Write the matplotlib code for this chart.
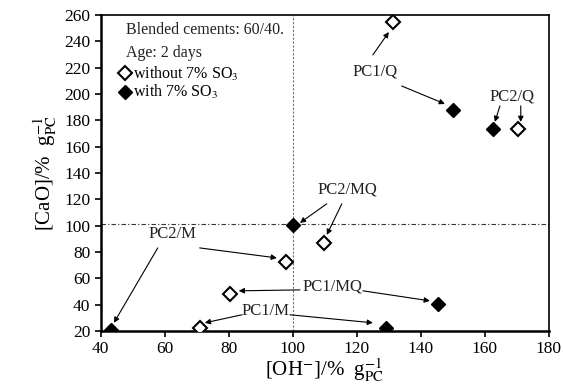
import matplotlib.pyplot as plt

plt.rcParams['font.family'] = ['Liberation Serif', 'DejaVu Serif']
plt.rcParams['mathtext.fontset'] = 'stix'

# OH- and CaO concentrations (% g_PC^-1), 2 days
oh_without = [131.3, 170.2, 109.8, 98.0, 80.3, 71.0]
cao_without = [254.7, 173.0, 87.0, 72.4, 48.0, 22.5]
oh_with = [150.1, 162.6, 100.0, 43.1, 145.4, 129.0]
cao_with = [187.8, 173.0, 100.5, 21.0, 40.5, 22.0]

# label text, label position, arrow (start, end) pairs
labels = ['PC1/Q', 'PC2/Q', 'PC2/MQ', 'PC2/M', 'PC1/MQ', 'PC1/M']
label_xy = [(125.6, 216.7), (168.4, 197.7), (116.9, 127.0),
            (62.5, 93.7), (112.5, 53.4), (91.6, 35.2)]
arrows = [
    [((125.0, 229.6), (130.0, 247.0)), ((134.0, 206.0), (147.5, 192.4))],
    [((164.7, 190.9), (163.1, 178.7)), ((171.2, 190.9), (171.2, 178.7))],
    [((110.6, 116.5), (102.2, 102.0)), ((115.3, 116.5), (110.6, 92.9))],
    [((57.8, 83.0), (44.1, 26.1)), ((70.9, 83.0), (95.0, 75.4))],
    [((102.2, 51.1), (83.1, 50.4)), ((121.9, 50.4), (142.8, 42.8))],
    [((84.1, 32.2), (72.5, 26.1)), ((99.1, 32.2), (125.0, 26.1))],
]

fig = plt.figure(figsize=(5.63, 3.92), dpi=100)
ax = fig.add_axes([0.179, 0.156, 0.796, 0.806])

ax.axvline(100, color='0.45', lw=0.8, ls=(0, (2, 1.5)), zorder=1)
ax.axhline(101, color='0.2', lw=0.8, ls=(0, (4, 2, 1, 2)), zorder=1)

ax.plot(oh_without, cao_without, ls='none', marker='D', ms=7.5, mfc='white',
        mec='black', mew=1.5, label='without 7% SO$_3$', zorder=3)
ax.plot(oh_with, cao_with, ls='none', marker='D', ms=7.5, mfc='black',
        mec='black', mew=1.0, label='with 7% SO$_3$', zorder=3)

for lab, xy, arr in zip(labels, label_xy, arrows):
    ax.text(xy[0], xy[1], lab, ha='center', va='center', fontsize=12,
            color='#222222')
    for start, end in arr:
        ax.annotate('', xy=end, xytext=start,
                    arrowprops=dict(arrowstyle='-|>', color='black', lw=0.8,
                                    mutation_scale=8, shrinkA=0, shrinkB=0))

ax.text(48, 248.6, 'Blended cements: 60/40.', fontsize=11.5, va='center',
        color='#222222')
ax.text(48, 231.1, 'Age: 2 days', fontsize=11.5, va='center', color='#222222')
ax.legend(loc='upper left', bbox_to_anchor=(0.018, 0.872), frameon=False,
          fontsize=11.5, handlelength=0.8, handletextpad=0.1,
          labelspacing=0.02, borderaxespad=0.2)

ax.set_xlim(40, 180)
ax.set_ylim(20, 260)
ax.set_xticks(range(40, 181, 20))
ax.set_yticks(range(20, 261, 20))
ax.tick_params(direction='out', length=4, width=1.2, labelsize=12.5,
               colors='black')
for s in ax.spines.values():
    s.set_linewidth(1.2)
ax.spines['left'].set_linewidth(1.8)
ax.spines['bottom'].set_linewidth(1.8)

ax.set_xlabel(r'[OH$^{-}$]/%  g$_{\mathrm{PC}}^{-1}$', fontsize=15, labelpad=0)
ax.set_ylabel(r'[CaO]/%  g$_{\mathrm{PC}}^{-1}$', fontsize=15, labelpad=4)

plt.savefig('out.png', dpi=100)
